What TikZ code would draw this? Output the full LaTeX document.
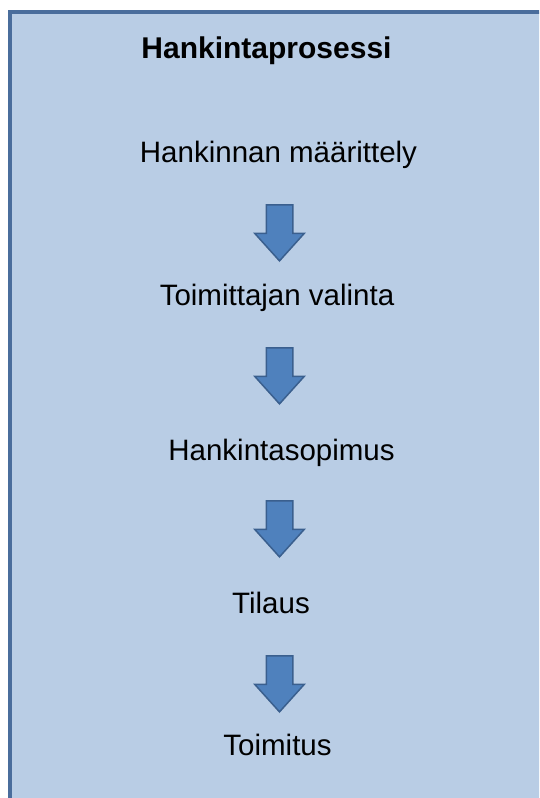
\documentclass[tikz,border=0pt]{standalone}
\usepackage{fontspec}
\setmainfont{Liberation Sans}
\usetikzlibrary{shapes.arrows}
\definecolor{panelfill}{HTML}{B9CDE5}
\definecolor{paneledge}{HTML}{4A6D9C}
\definecolor{arrowfill}{HTML}{4F81BD}
\definecolor{arrowedge}{HTML}{3A5F8E}

\begin{document}
\begin{tikzpicture}[x=1pt, y=-1pt,
      every node/.style={font=\fontsize{29.5}{34}\selectfont, anchor=base, inner sep=0pt},
      downarrow/.style={single arrow, draw=arrowedge, fill=arrowfill, line width=1.5pt,
                        shape border rotate=270, minimum height=56pt, minimum width=48pt,
                        inner sep=12.5pt, single arrow head extend=11.5pt,
                        single arrow tip angle=84, anchor=tip}]
    \useasboundingbox (0,0) rectangle (539,798);
    \clip (0,0) rectangle (539,798);
    \draw[line width=3.5pt, draw=paneledge, fill=panelfill] (10,12) rectangle (600,850);
    \node[font=\bfseries\fontsize{30}{34}\selectfont] (title) at (266.5,58) {Hankintaprosessi};
    \node (maar)  at (278.5,162) {Hankinnan määrittely};
    \node (valin) at (277,305)   {Toimittajan valinta};
    \node (sopim) at (281.5,460) {Hankintasopimus};
    \node (tilau) at (271,613)   {Tilaus};
    \node (toimi) at (277.5,755) {Toimitus};
    \node[downarrow] (arr1) at (279.5,262) {};
    \node[downarrow] (arr2) at (279.5,405) {};
    \node[downarrow] (arr3) at (279.5,558) {};
    \node[downarrow] (arr4) at (279.5,713) {};
  \end{tikzpicture}
\end{document}
